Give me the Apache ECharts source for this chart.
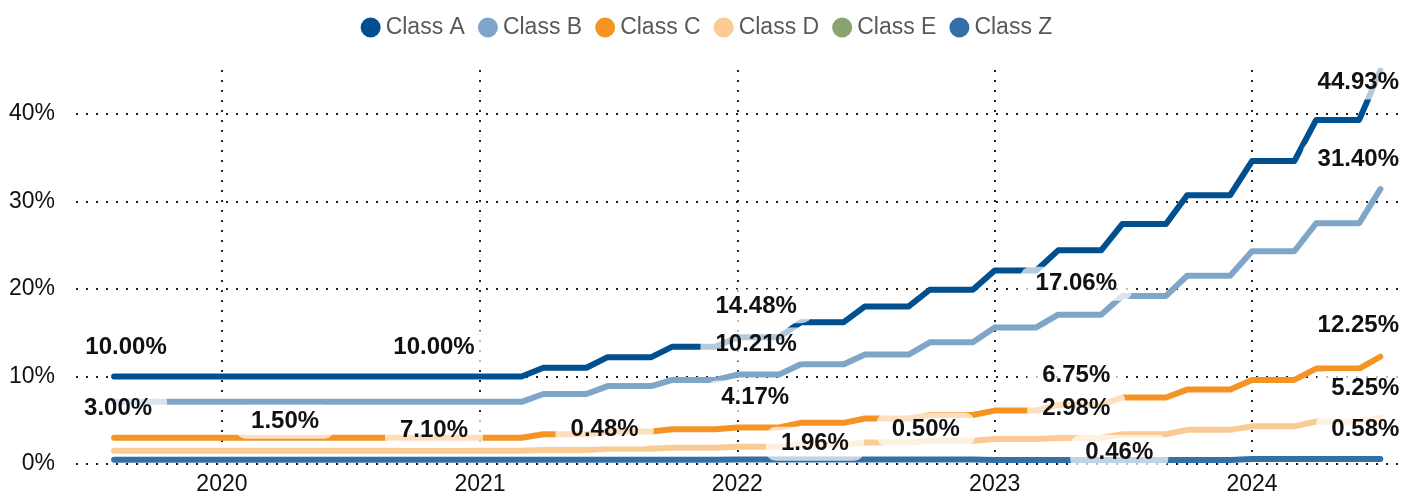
<!DOCTYPE html>
<html>
<head>
<meta charset="utf-8">
<script src="https://cdn.jsdelivr.net/npm/echarts@6/dist/echarts.min.js"></script>
<style>
  html, body { margin: 0; padding: 0; background: #fff; }
  #chart { width: 1413px; height: 497px; }
</style>
</head>
<body>
<div id="chart"></div>
<script>
// monthly points, Aug 2019 .. Jul 2024
const months = [
  '2019-08-01','2019-09-01','2019-10-01','2019-11-01','2019-12-01',
  '2020-01-01','2020-02-01','2020-03-01','2020-04-01','2020-05-01','2020-06-01',
  '2020-07-01','2020-08-01','2020-09-01','2020-10-01','2020-11-01','2020-12-01',
  '2021-01-01','2021-02-01','2021-03-01','2021-04-01','2021-05-01','2021-06-01',
  '2021-07-01','2021-08-01','2021-09-01','2021-10-01','2021-11-01','2021-12-01',
  '2022-01-01','2022-02-01','2022-03-01','2022-04-01','2022-05-01','2022-06-01',
  '2022-07-01','2022-08-01','2022-09-01','2022-10-01','2022-11-01','2022-12-01',
  '2023-01-01','2023-02-01','2023-03-01','2023-04-01','2023-05-01','2023-06-01',
  '2023-07-01','2023-08-01','2023-09-01','2023-10-01','2023-11-01','2023-12-01',
  '2024-01-01','2024-02-01','2024-03-01','2024-04-01','2024-05-01','2024-06-01',
  '2024-07-01'
]

const classA = [
  10, 10, 10, 10, 10,
  10, 10, 10, 10, 10, 10, 10, 10, 10, 10, 10, 10,
  10, 10, 10, 11.0, 11.0, 11.0, 12.2, 12.2, 12.2, 13.4, 13.4, 13.4,
  14.48, 14.48, 14.48, 16.2, 16.2, 16.2, 18.0, 18.0, 18.0, 19.9, 19.9, 19.9,
  22.1, 22.1, 22.1, 24.4, 24.4, 24.4, 27.4, 27.4, 27.4, 30.7, 30.7, 30.7,
  34.6, 34.6, 34.6, 39.3, 39.3, 39.3, 44.93
]
const classB = [
  7.10, 7.10, 7.10, 7.10, 7.10,
  7.10, 7.10, 7.10, 7.10, 7.10, 7.10, 7.10, 7.10, 7.10, 7.10, 7.10, 7.10,
  7.10, 7.10, 7.10, 8.0, 8.0, 8.0, 8.9, 8.9, 8.9, 9.6, 9.6, 9.6,
  10.21, 10.21, 10.21, 11.4, 11.4, 11.4, 12.5, 12.5, 12.5, 13.9, 13.9, 13.9,
  15.6, 15.6, 15.6, 17.06, 17.06, 17.06, 19.2, 19.2, 19.2, 21.5, 21.5, 21.5,
  24.3, 24.3, 24.3, 27.5, 27.5, 27.5, 31.40
]
const classC = [
  3.00, 3.00, 3.00, 3.00, 3.00,
  3.00, 3.00, 3.00, 3.00, 3.00, 3.00, 3.00, 3.00, 3.00, 3.00, 3.00, 3.00,
  3.00, 3.00, 3.00, 3.4, 3.4, 3.4, 3.7, 3.7, 3.7, 3.96, 3.96, 3.96,
  4.17, 4.17, 4.17, 4.7, 4.7, 4.7, 5.2, 5.2, 5.2, 5.6, 5.6, 5.6,
  6.1, 6.1, 6.1, 6.75, 6.75, 6.75, 7.6, 7.6, 7.6, 8.5, 8.5, 8.5,
  9.6, 9.6, 9.6, 10.9, 10.9, 10.9, 12.25
]
const classD = [
  1.50, 1.50, 1.50, 1.50, 1.50,
  1.50, 1.50, 1.50, 1.50, 1.50, 1.50, 1.50, 1.50, 1.50, 1.50, 1.50, 1.50,
  1.50, 1.50, 1.50, 1.6, 1.6, 1.6, 1.75, 1.75, 1.75, 1.85, 1.85, 1.85,
  1.96, 1.96, 1.96, 2.2, 2.2, 2.2, 2.45, 2.45, 2.45, 2.65, 2.65, 2.65,
  2.85, 2.85, 2.85, 2.98, 2.98, 2.98, 3.4, 3.4, 3.4, 3.9, 3.9, 3.9,
  4.3, 4.3, 4.3, 4.85, 4.85, 4.85, 5.25
]
const classE = []
const classZ = [
  0.48, 0.48, 0.48, 0.48, 0.48,
  0.48, 0.48, 0.48, 0.48, 0.48, 0.48, 0.48, 0.48, 0.48, 0.48, 0.48, 0.48,
  0.48, 0.48, 0.48, 0.48, 0.48, 0.48, 0.48, 0.48, 0.48, 0.48, 0.48, 0.48,
  0.50, 0.50, 0.50, 0.50, 0.50, 0.50, 0.50, 0.50, 0.50, 0.50, 0.50, 0.50,
  0.46, 0.46, 0.46, 0.46, 0.46, 0.46, 0.46, 0.46, 0.46, 0.46, 0.46, 0.46,
  0.58, 0.58, 0.58, 0.58, 0.58, 0.58, 0.58
]

const seriesNames = ['Class A', 'Class B', 'Class C', 'Class D', 'Class E', 'Class Z']
const seriesValues = [classA, classB, classC, classD, classE, classZ]
const colors = ['#004f8e', '#7fa6c9', '#f49425', '#facb94', '#89a46f', '#346fa5']

// which points carry a value label, and where the label sits relative to the point
const labelPlacement = [
  ['Class A', '2019-08-01', 12, -29],
  ['Class A', '2020-11-01', -3, -29],
  ['Class B', '2020-11-01', -3, 29],
  ['Class C', '2019-08-01', 4, -29],
  ['Class D', '2020-04-01', -1, -29],
  ['Class Z', '2021-07-01', -3, -30],
  ['Class A', '2022-02-01', -3, -31],
  ['Class B', '2022-02-01', -3, -30],
  ['Class C', '2022-02-01', -4, -30],
  ['Class D', '2022-03-01', 36, -3],
  ['Class Z', '2022-10-01', -4, -30],
  ['Class B', '2023-05-01', -3, -31],
  ['Class C', '2023-05-01', -3, -30],
  ['Class D', '2023-05-01', -3, -30],
  ['Class Z', '2023-07-01', -3, -8],
  ['Class A', '2024-07-01', -22, 12],
  ['Class B', '2024-07-01', -22, -30],
  ['Class C', '2024-07-01', -22, -31],
  ['Class D', '2024-07-01', -15, -30],
  ['Class Z', '2024-07-01', -15, -30]
]

const FONT = "'Liberation Sans', Arial, sans-serif"

const chart = echarts.init(document.getElementById('chart'))

const series = seriesNames.map(function (name, si) {
  const values = seriesValues[si]
  const data = values.map(function (v, i) {
    const spot = labelPlacement.find(function (l) { return l[0] === name && l[1] === months[i] })
    if (!spot) return [months[i], v]
    return {
      value: [months[i], v],
      label: {
        show: true,
        position: 'inside',
        offset: [spot[2], spot[3]],
        formatter: function (p) { return p.value[1].toFixed(2) + '%' },
        fontFamily: FONT,
        fontSize: 24,
        fontWeight: 'bold',
        color: '#111',
        backgroundColor: 'rgba(255,255,255,0.7)',
        padding: [5, 15],
        borderRadius: 10
      }
    }
  })
  return {
    name: name,
    type: 'line',
    data: data,
    symbol: 'circle',
    symbolSize: 0,
    showSymbol: true,
    showAllSymbol: true,
    lineStyle: { width: 6, color: colors[si], cap: 'round', join: 'round' },
    itemStyle: { color: colors[si] },
    emphasis: { disabled: true },
    label: { show: false }
  }
})

chart.setOption({
  animation: false,
  color: colors,
  legend: {
    top: 11,
    left: 'center',
    icon: 'circle',
    itemWidth: 20,
    itemHeight: 20,
    itemGap: 13,
    textStyle: { fontFamily: FONT, fontSize: 23, color: '#595959' },
    data: seriesNames
  },
  grid: {
    left: 76,
    right: 8,
    top: 70,
    bottom: 33,
    outerBoundsMode: 'none'
  },
  xAxis: {
    type: 'time',
    min: '2019-06-08',
    max: '2024-08-05',
    splitNumber: 5,
    axisLine: { show: false },
    axisTick: { show: false },
    axisLabel: {
      formatter: '{yyyy}',
      fontFamily: FONT,
      fontSize: 23,
      color: '#111',
      margin: 9,
      showMinLabel: false,
      showMaxLabel: false
    },
    splitLine: {
      show: true,
      showMinLine: false,
      showMaxLine: false,
      lineStyle: { color: '#222', width: 2, type: [2, 8] }
    }
  },
  yAxis: {
    type: 'value',
    min: 0,
    max: 45,
    interval: 10,
    axisLine: { show: false },
    axisTick: { show: false },
    axisLabel: {
      formatter: '{value}%',
      fontFamily: FONT,
      fontSize: 23,
      color: '#111',
      margin: 21,
      showMaxLabel: false
    },
    splitLine: {
      show: true,
      showMaxLine: false,
      lineStyle: { color: '#222', width: 2, type: [2, 8] }
    }
  },
  series: series
})
</script>
</body>
</html>
